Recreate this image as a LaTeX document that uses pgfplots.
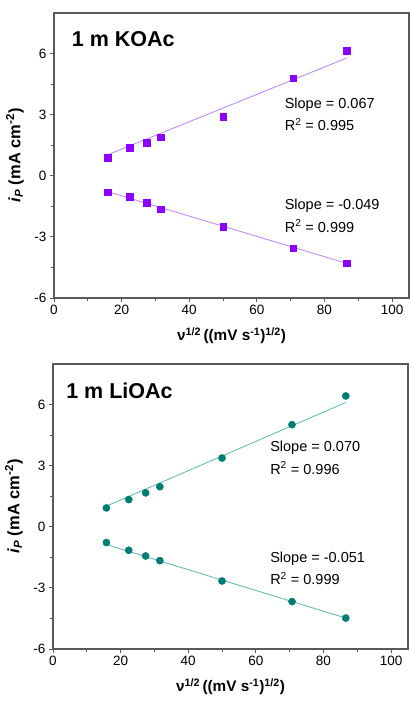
\documentclass[border=0pt]{standalone}
\usepackage{fontspec}
\setmainfont{Liberation Sans}
\usepackage{pgfplots}
\pgfplotsset{compat=1.18}
\definecolor{kv}{RGB}{140,0,255}
\definecolor{kvl}{RGB}{185,130,250}
\definecolor{lt}{RGB}{0,125,115}
\definecolor{ltl}{RGB}{90,185,170}
\pgfplotsset{myax/.style={
 scale only axis, width=355pt, height=285pt,
 xmin=0, xmax=105, ymin=-6, ymax=8,
 xtick={0,20,40,60,80,100}, xticklabels={0,20,40,60,80,100},
 ytick={-6,-3,0,3,6}, yticklabels={-6,-3,0,3,6},
 minor x tick num=1, minor y tick num=1,
 xtick pos=bottom, ytick pos=left, tick align=outside,
 major tick length=4pt, minor tick length=3pt,
 axis line style={draw=black!65, line width=1.1pt},
 every tick/.style={black!65, line width=0.9pt},
 tick label style={font=\fontsize{13.5}{15}\selectfont},
 xlabel={ν\textsuperscript{1/2}\,((mV s\textsuperscript{-1})\textsuperscript{1/2})},
 ylabel={\textit{i}\textsubscript{\textit{P}} (mA cm\textsuperscript{-2})},
 xlabel style={font=\fontsize{15.3}{17}\selectfont\bfseries, at={(axis description cs:0.5,-0.133)}, anchor=center},
 ylabel style={font=\fontsize{16.5}{18}\selectfont\bfseries, at={(axis description cs:-0.11,0.5)}, anchor=center},
 clip=false,
}}
\tikzset{ann/.style={anchor=west, inner sep=0pt, font=\fontsize{14.5}{16}\selectfont},
 ttl/.style={anchor=west, inner sep=0pt, font=\fontsize{21.5}{24}\selectfont\bfseries}}
\begin{document}
\begin{tikzpicture}
\useasboundingbox (0,0) rectangle (410pt,702pt);
\begin{axis}[myax, at={(54pt,404pt)}, anchor=south west]
\addplot[kvl, line width=0.8pt] coordinates {(15.8,1.03) (86.6,5.79)};
\addplot[kvl, line width=0.8pt] coordinates {(15.8,-0.77) (86.6,-4.30)};
\addplot[only marks, mark=square*, mark size=3.3pt, kv] coordinates {(15.8,0.90) (22.4,1.39) (27.4,1.62) (31.6,1.90) (50,2.92) (70.7,4.80) (86.6,6.15)};
\addplot[only marks, mark=square*, mark size=3.3pt, kv] coordinates {(15.8,-0.80) (22.4,-1.03) (27.4,-1.33) (31.6,-1.64) (50,-2.49) (70.7,-3.56) (86.6,-4.30)};
\node[ttl] at (axis description cs:0.05,0.909) {1 m KOAc};
\node[ann] at (axis cs:68.2,3.49) {Slope = 0.067};
\node[ann] at (axis cs:68.2,2.51) {R\textsuperscript{2} = 0.995};
\node[ann] at (axis cs:68.2,-1.48) {Slope = -0.049};
\node[ann] at (axis cs:68.2,-2.46) {R\textsuperscript{2} = 0.999};
\end{axis}
\begin{axis}[myax, at={(53pt,53pt)}, anchor=south west]
\addplot[ltl, line width=0.8pt] coordinates {(15.8,1.02) (86.6,6.11)};
\addplot[ltl, line width=0.8pt] coordinates {(15.8,-0.87) (86.6,-4.48)};
\addplot[only marks, mark=*, mark size=3.6pt, lt] coordinates {(15.8,0.93) (22.4,1.34) (27.4,1.67) (31.6,1.97) (50,3.38) (70.7,5.02) (86.6,6.43)};
\addplot[only marks, mark=*, mark size=3.6pt, lt] coordinates {(15.8,-0.77) (22.4,-1.15) (27.4,-1.43) (31.6,-1.66) (50,-2.66) (70.7,-3.67) (86.6,-4.48)};
\node[ttl] at (axis description cs:0.037,0.905) {1 m LiOAc};
\node[ann] at (axis cs:64.2,3.87) {Slope = 0.070};
\node[ann] at (axis cs:64.2,2.89) {R\textsuperscript{2} = 0.996};
\node[ann] at (axis cs:64.2,-1.57) {Slope = -0.051};
\node[ann] at (axis cs:64.2,-2.55) {R\textsuperscript{2} = 0.999};
\end{axis}
\end{tikzpicture}
\end{document}
